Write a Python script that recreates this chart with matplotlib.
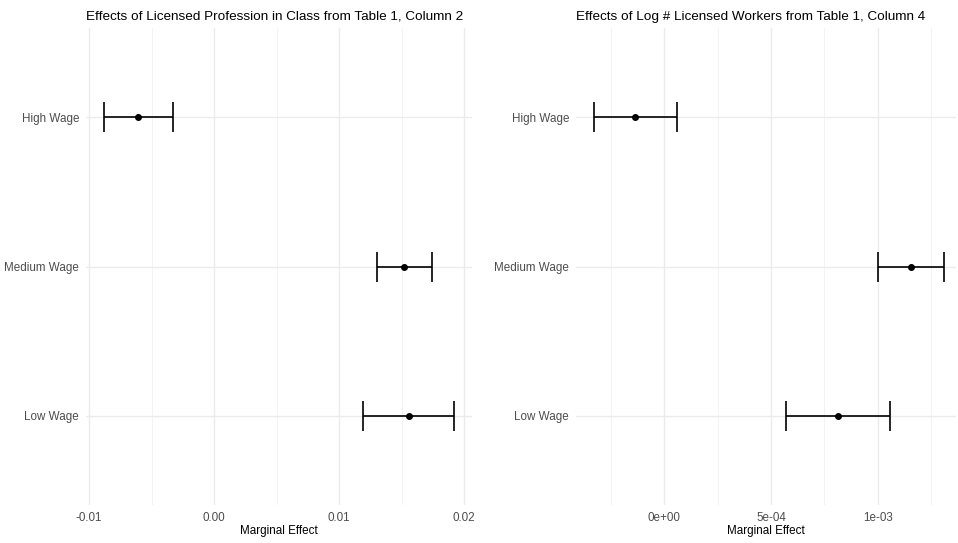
import matplotlib
matplotlib.use("Agg")
import matplotlib.pyplot as plt
import numpy as np

plt.rcParams['font.family'] = ['Liberation Sans', 'DejaVu Sans']

categories = ["High Wage", "Medium Wage", "Low Wage"]

# Left panel: Licensed Profession in Class (Table 1, Column 2)
left_est = [-0.00608, 0.01518, 0.01558]
left_lo = [-0.00885, 0.01299, 0.01192]
left_hi = [-0.00328, 0.01742, 0.01920]
left_ticks = [-0.01, 0.00, 0.01, 0.02]
left_ticklabels = ["-0.01", "0.00", "0.01", "0.02"]
left_minor = [-0.005, 0.005, 0.015]
left_title = "Effects of Licensed Profession in Class from Table 1, Column 2"

# Right panel: Log # Licensed Workers (Table 1, Column 4)
right_est = [-0.000137, 0.001156, 0.000816]
right_lo = [-0.000331, 0.001002, 0.000570]
right_hi = [0.000061, 0.001311, 0.001059]
right_ticks = [0.0, 0.0005, 0.001]
right_ticklabels = ["0e+00", "5e-04", "1e-03"]
right_minor = [-0.00025, 0.00025, 0.00075, 0.00125]
right_title = "Effects of Log # Licensed Workers from Table 1, Column 4"

xlabel = "Marginal Effect"

W, H = 958, 543
fig = plt.figure(figsize=(W / 100, H / 100), dpi=100)
fig.patch.set_facecolor("white")


def panel(px_left, px_right, xlim, est, lo, hi, ticks, ticklabels, minor, title):
    top, bottom = 28, 505
    ax = fig.add_axes([px_left / W, (H - bottom) / H, (px_right - px_left) / W, (bottom - top) / H])
    ypos = np.arange(1, len(categories) + 1)
    ax.set_xlim(*xlim)
    ax.set_ylim(len(categories) + 0.6, 0.4)
    for s in ax.spines.values():
        s.set_visible(False)
    ax.set_xticks(ticks)
    ax.set_xticklabels(ticklabels)
    ax.set_xticks(minor, minor=True)
    ax.set_yticks(ypos)
    ax.set_yticklabels(categories)
    ax.tick_params(axis="both", which="both", length=0, colors="#4D4D4D", labelsize=8.4)
    ax.tick_params(axis="x", pad=5)
    ax.tick_params(axis="y", pad=5)
    ax.grid(True, which="major", color="#EBEBEB", linewidth=1.0)
    ax.grid(True, which="minor", axis="x", color="#F1F1F1", linewidth=0.6)
    ax.set_axisbelow(True)
    est = np.array(est); lo = np.array(lo); hi = np.array(hi)
    ax.errorbar(est, ypos, xerr=[est - lo, hi - est], fmt="none", ecolor="black",
                elinewidth=1.2, capsize=10.8, capthick=1.2, zorder=3)
    ax.plot(est, ypos, "o", color="black", markersize=4, zorder=4)
    ax.set_xlabel(xlabel, fontsize=8.4, color="black", labelpad=1)
    ax.set_title(title, fontsize=9.7, loc="left", pad=6, color="black")
    return ax


panel(86, 472, (-0.01026, 0.02062), left_est, left_lo, left_hi,
      left_ticks, left_ticklabels, left_minor, left_title)
panel(576, 956, (-0.000414, 0.001367), right_est, right_lo, right_hi,
      right_ticks, right_ticklabels, right_minor, right_title)

fig.savefig("out.png", dpi=100, facecolor="white")
